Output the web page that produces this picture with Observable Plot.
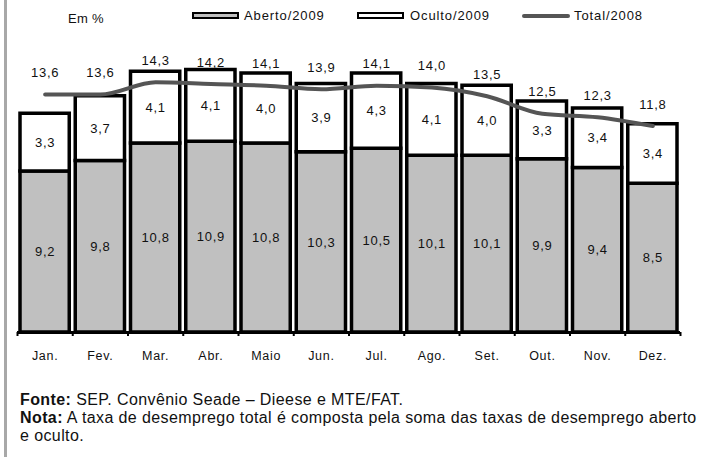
<!DOCTYPE html>
<html><head><meta charset="utf-8">
<script src="https://cdn.jsdelivr.net/npm/d3@7"></script>
<script src="https://cdn.jsdelivr.net/npm/@observablehq/plot@0.6"></script>
<style>
body{margin:0;background:#fff;font-family:"Liberation Sans",Arial,sans-serif;}
#wrap{position:relative;width:706px;height:457px;overflow:hidden;background:#fff;}
#border{position:absolute;left:4px;top:0;width:3px;height:457px;background:#a8a8a8;}
#legend{position:relative;height:28px;}
.lg{position:absolute;font-size:13px;letter-spacing:0.9px;color:#111;line-height:13px;white-space:nowrap;}
.sw{position:absolute;box-sizing:border-box;}
#chart svg{display:block;}
#chart svg text{letter-spacing:0.7px;}
#footer{position:absolute;left:20px;top:391px;font-size:16px;letter-spacing:0.4px;line-height:18px;color:#111;white-space:nowrap;}
</style>
</head><body>
<div id="wrap">
  <div id="border"></div>
  <div id="legend">
    <div class="lg" style="left:68px;top:12px;letter-spacing:0.3px">Em %</div>
    <div class="sw" style="left:192px;top:12px;width:47px;height:7px;border:2px solid #000;background:#c0c0c0"></div>
    <div class="lg" id="l1" style="left:244px;top:9px"></div>
    <div class="sw" style="left:357px;top:12px;width:47px;height:7px;border:2px solid #000;background:#fff"></div>
    <div class="lg" id="l2" style="left:410px;top:9px"></div>
    <div class="sw" style="left:522px;top:14px;width:48px;height:4px;border-radius:2px;background:#555"></div>
    <div class="lg" id="l3" style="left:574px;top:9px"></div>
  </div>
  <div id="chart"></div>
  <div id="footer"><b>Fonte:</b> SEP. Convênio Seade – Dieese e MTE/FAT.<br><b>Nota:</b> A taxa de desemprego total é composta pela soma das taxas de desemprego aberto<br>e oculto.</div>
</div>
<script>
const months = ["Jan.","Fev.","Mar.","Abr.","Maio","Jun.","Jul.","Ago.","Set.","Out.","Nov.","Dez."];
const aberto2009 = [9.2,9.8,10.8,10.9,10.8,10.3,10.5,10.1,10.1,9.9,9.4,8.5];
const oculto2009 = [3.3,3.7,4.1,4.1,4.0,3.9,4.3,4.1,4.0,3.3,3.4,3.4];
const total2008 = [13.6,13.6,14.3,14.2,14.1,13.9,14.1,14.0,13.5,12.5,12.3,11.8];
const seriesNames = ["Aberto/2009","Oculto/2009","Total/2008"];

document.getElementById("l1").textContent = seriesNames[0];
document.getElementById("l2").textContent = seriesNames[1];
document.getElementById("l3").textContent = seriesNames[2];

const rows = months.map((m, i) => ({m, i, a: aberto2009[i], o: oculto2009[i], t: total2008[i]}));
const fmt = v => v.toFixed(1).replace(".", ",");
const cx = d => d.i + 0.5;

const chart = Plot.plot({
  width: 706, height: 350,
  marginLeft: 17, marginRight: 26, marginTop: 24, marginBottom: 46,
  x: {domain: [0, months.length], axis: null},
  y: {domain: [0, 16], axis: null},
  style: {fontFamily: "'Liberation Sans', Arial, sans-serif", fontSize: "13px", color: "#111", background: "#fff"},
  marks: [
    Plot.rect(rows, {x1: d => d.i, x2: d => d.i + 1, y1: 0, y2: d => d.a, fill: "#c0c0c0", stroke: "#000", strokeWidth: 3.5, insetLeft: 3, insetRight: 3}),
    Plot.rect(rows, {x1: d => d.i, x2: d => d.i + 1, y1: d => d.a, y2: d => d.a + d.o, fill: "#fff", stroke: "#000", strokeWidth: 3.5, insetLeft: 3, insetRight: 3}),
    Plot.ruleY([0], {stroke: "#000", strokeWidth: 3}),
    Plot.axisX({ticks: d3.range(months.length + 1), tickFormat: () => "", tickSize: 4, strokeWidth: 2, stroke: "#000"}),
    Plot.axisX({ticks: rows.map(cx), tickFormat: v => months[Math.floor(v)], tickSize: 0, tickPadding: 19, fontSize: 12.5, fill: "#111"}),
    Plot.line(rows, {x: cx, y: "t", stroke: "#555", strokeWidth: 4, curve: "monotone-x", strokeLinecap: "round", strokeLinejoin: "round"}),
    Plot.text(rows, {x: cx, y: d => d.a / 2, text: d => fmt(d.a), fill: "#111", fontSize: 13}),
    Plot.text(rows, {x: cx, y: d => d.a + d.o / 2, text: d => fmt(d.o), fill: "#111", fontSize: 13}),
    Plot.text(rows, {x: cx, y: "t", dy: -21.5, text: d => fmt(d.t), fill: "#111", fontSize: 13})
  ]
});
document.getElementById("chart").appendChild(chart);
</script>
</body></html>
